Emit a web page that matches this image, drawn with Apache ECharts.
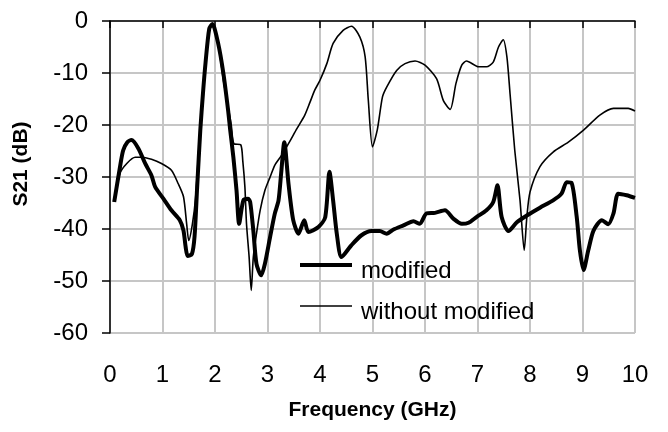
<!DOCTYPE html>
<html>
<head>
<meta charset="utf-8">
<title>S21</title>
<script src="https://cdn.jsdelivr.net/npm/echarts@6.0.0/dist/echarts.min.js"></script>
<style>
    body { margin: 0; background: #fff; }
    #chart { width: 668px; height: 432px; }
</style>
</head>
<body>
<div id="chart"></div>
<script>
    // 数据
    var freqModified = [0.08, 0.19, 0.25, 0.33, 0.41, 0.54, 0.67, 0.79, 0.86, 1.02, 1.17, 1.33, 1.40, 1.44, 1.48, 1.56,
        1.61, 1.66, 1.72, 1.77, 1.82, 1.89, 1.95, 2.06, 2.16, 2.25, 2.29, 2.35, 2.41, 2.46, 2.54, 2.63, 2.67, 2.73,
        2.79, 2.88, 2.95, 3.05, 3.14, 3.21, 3.26, 3.32, 3.40, 3.49, 3.59, 3.70, 3.78, 3.97, 4.10, 4.18, 4.25, 4.32,
        4.41, 4.60, 4.79, 4.98, 5.14, 5.27, 5.40, 5.59, 5.78, 5.90, 6.03, 6.19, 6.38, 6.54, 6.70, 6.83, 6.98, 7.17,
        7.30, 7.38, 7.46, 7.59, 7.75, 7.94, 8.19, 8.44, 8.60, 8.70, 8.79, 8.89, 8.95, 9.02, 9.11, 9.21, 9.37, 9.49,
        9.59, 9.68, 9.84, 10.0];
    var s21Modified = [-34.8, -28.1, -24.9, -23.3, -22.9, -24.5, -27.4, -29.7, -31.9, -34.2, -36.4, -38.3, -40.3, -43.4, -45.2, -44.8,
        -41.5, -32, -21, -14, -8, -1.5, -0.6, -4.3, -10.1, -17.2, -21, -26.2, -32.6, -39, -34.5, -34.2, -34.8, -40.3,
        -46.7, -48.9, -46.7, -41.5, -37, -34.5, -29.3, -23.3, -31.3, -38.3, -40.9, -38.3, -40.6, -39.6, -37.7, -29.0, -34.5, -40.9,
        -45.4, -43.1, -41.2, -40.4, -40.4, -40.9, -40.1, -39.3, -38.5, -39.0, -37.0, -36.9, -36.4, -38, -39, -38.8, -37.7, -36.4,
        -34.8, -31.6, -37.7, -40.4, -38.7, -37.4, -35.9, -34.5, -33.2, -31, -31.1, -37.7, -44.1, -47.9, -44.1, -40.3, -38.3, -39.1,
        -37, -33.2, -33.5, -34];

    var freqPlain = [0.08, 0.19, 0.32, 0.48, 0.60, 0.79, 0.98, 1.17, 1.30, 1.40, 1.46, 1.50, 1.57, 1.63, 1.71, 1.77,
        1.82, 1.89, 1.95, 2.06, 2.16, 2.25, 2.31, 2.36, 2.49, 2.53, 2.57, 2.60, 2.65, 2.69, 2.73, 2.79, 2.86, 2.95,
        3.05, 3.14, 3.27, 3.40, 3.56, 3.71, 3.81, 3.90, 4.00, 4.13, 4.25, 4.44, 4.60, 4.76, 4.86, 4.92, 5.00, 5.09,
        5.19, 5.27, 5.46, 5.62, 5.81, 6.00, 6.22, 6.35, 6.48, 6.59, 6.70, 6.79, 7.02, 7.17, 7.30, 7.40, 7.49, 7.56,
        7.62, 7.71, 7.81, 7.89, 7.94, 8.00, 8.19, 8.44, 8.73, 9.02, 9.33, 9.59, 9.87, 10.0];
    var s21Plain = [-34.7, -29.3, -27.4, -26.2, -26.2, -26.6, -27.4, -28.7, -31.3, -33.8, -39, -42.2, -39, -34, -21.7, -14,
        -8, -1.5, -0.6, -4.3, -11.4, -16.5, -20, -23.6, -23.8, -27, -32, -39, -45.4, -51.8, -45.4, -40.9, -36.4, -32.6,
        -30, -27.7, -25.8, -23.6, -20.7, -18.1, -15.6, -13.3, -11.4, -8.2, -4.3, -1.8, -1.0, -3.1, -6.9, -15.2, -24.2, -21,
        -14.6, -12.7, -9.5, -8.2, -7.7, -8.5, -11.1, -15.3, -17, -12, -8.5, -7.7, -8.8, -8.8, -7.9, -5, -3.6, -6.9,
        -14, -24.9, -34.5, -44.1, -37.7, -32.9, -28, -25.2, -23.3, -21, -18.1, -16.8, -16.8, -17.3];

    var seriesNames = ['modified', 'without modified'];
    var xTicks = [0, 10, 1];     // min, max, interval
    var yTicks = [-60, 0, 10];

    function toPairs(xs, ys) {
        var out = [];
        for (var i = 0; i < xs.length; i++) {
            out.push([xs[i], ys[i]]);
        }
        return out;
    }

    var font = 'Liberation Sans, Arial, sans-serif';
    var chart = echarts.init(document.getElementById('chart'));

    // 图例：两条不同粗细的线，各用一个legend；文字比线略低一点
    function makeLegend(name, top, lineH) {
        return {
            orient: 'vertical',
            left: 300,
            top: top,
            padding: 0,
            icon: 'rect',
            itemWidth: 52,
            itemHeight: lineH,
            formatter: function (n) {
                return '{t|' + n + '}';
            },
            textStyle: {
                rich: {
                    t: { fontFamily: font, fontSize: 24, color: '#000', padding: [12, 0, 0, 4] }
                }
            },
            data: [name]
        };
    }

    var option = {
        animation: false,
        backgroundColor: '#fff',
        grid: {
            left: 110,
            top: 21,
            width: 525,
            height: 312,
            show: true,
            borderColor: '#e4e4e4',
            borderWidth: 1
        },
        legend: [
            makeLegend(seriesNames[0], 259, 4),
            makeLegend(seriesNames[1], 300, 1.6)
        ],
        xAxis: {
            type: 'value',
            min: xTicks[0],
            max: xTicks[1],
            interval: xTicks[2],
            name: 'Frequency (GHz)',
            nameLocation: 'middle',
            nameGap: 67,
            nameTextStyle: { fontFamily: font, fontSize: 21, fontWeight: 'bold', color: '#000' },
            axisLine: { lineStyle: { color: '#000', width: 1.5 } },
            axisTick: { show: true, length: 7, lineStyle: { color: '#000', width: 1.5 } },
            axisLabel: { fontFamily: font, fontSize: 24, color: '#000', margin: 30 },
            splitLine: { show: true, lineStyle: { color: '#c6c6c6', width: 2 } }
        },
        yAxis: {
            type: 'value',
            min: yTicks[0],
            max: yTicks[1],
            interval: yTicks[2],
            name: 'S21 (dB)',
            nameLocation: 'middle',
            nameGap: 78,
            nameTextStyle: { fontFamily: font, fontSize: 21, fontWeight: 'bold', color: '#000', padding: [0, 0, 0, 26] },
            axisLine: { lineStyle: { color: '#000', width: 1.5 } },
            axisTick: { show: true, length: 8, lineStyle: { color: '#000', width: 1.5 } },
            axisLabel: { fontFamily: font, fontSize: 24, color: '#000', margin: 22 },
            splitLine: { show: true, lineStyle: { color: '#c6c6c6', width: 2 } }
        },
        series: [
            {
                name: seriesNames[0],
                type: 'line',
                showSymbol: false,
                symbol: 'none',
                smooth: 0.25,
                lineStyle: { color: '#000', width: 4 },
                itemStyle: { color: '#000' },
                z: 3,
                data: toPairs(freqModified, s21Modified)
            },
            {
                name: seriesNames[1],
                type: 'line',
                showSymbol: false,
                symbol: 'none',
                smooth: 0.25,
                lineStyle: { color: '#000', width: 1.6 },
                itemStyle: { color: '#000' },
                z: 2,
                data: toPairs(freqPlain, s21Plain)
            }
        ]
    };
    chart.setOption(option);
</script>
</body>
</html>
